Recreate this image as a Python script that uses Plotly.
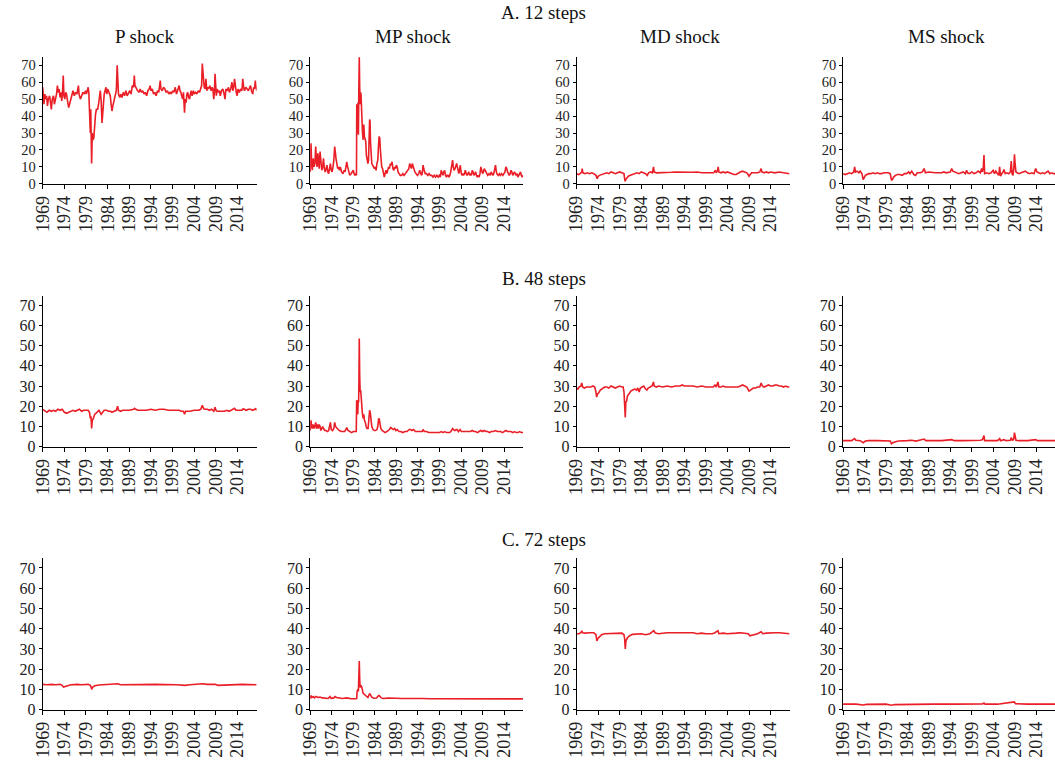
import plotly.graph_objects as go

# ---------------- data (decimal years, values) ----------------
year_ticks = [1969, 1974, 1979, 1984, 1989, 1994, 1999, 2004, 2009, 2014]
y_ticks = [0, 10, 20, 30, 40, 50, 60, 70]
shock_names = ["P shock", "MP shock", "MD shock", "MS shock"]
section_names = ["A. 12 steps", "B. 48 steps", "C. 72 steps"]

A_P_t = [1969.0,1969.15,1969.3,1969.5,1969.7,1969.9,1970.1,1970.3,1970.6,1970.8,1971.0,1971.2,1971.5,1971.7,1972.0,1972.2,1972.4,1972.6,1972.8,1973.0,1973.2,1973.4,1973.6,1973.75,1973.9,1974.1,1974.3,1974.5,1974.8,1975.0,1975.2,1975.5,1975.8,1976.0,1976.3,1976.6,1976.9,1977.1,1977.25,1977.4,1977.7,1978.0,1978.3,1978.6,1978.9,1979.1,1979.3,1979.5,1979.65,1979.8,1979.9,1980.0,1980.1,1980.2,1980.3,1980.45,1980.6,1980.8,1981.0,1981.2,1981.4,1981.7,1981.9,1982.1,1982.3,1982.5,1982.7,1982.85,1983.0,1983.2,1983.4,1983.6,1983.8,1984.0,1984.3,1984.6,1984.8,1985.0,1985.2,1985.5,1985.8,1986.0,1986.2,1986.35,1986.5,1986.8,1987.0,1987.3,1987.6,1987.9,1988.2,1988.5,1988.8,1989.1,1989.4,1989.7,1990.0,1990.15,1990.3,1990.6,1990.9,1991.2,1991.5,1991.8,1992.1,1992.4,1992.7,1993.0,1993.3,1993.6,1993.8,1994.0,1994.3,1994.6,1994.9,1995.2,1995.5,1995.8,1996.0,1996.15,1996.3,1996.6,1996.9,1997.2,1997.5,1997.8,1998.1,1998.4,1998.7,1999.0,1999.3,1999.6,1999.9,2000.2,2000.5,2000.7,2000.9,2001.1,2001.3,2001.5,2001.75,2001.9,2002.1,2002.3,2002.5,2002.7,2002.9,2003.1,2003.3,2003.5,2003.8,2004.0,2004.3,2004.6,2004.9,2005.2,2005.5,2005.7,2005.85,2006.0,2006.15,2006.3,2006.5,2006.7,2006.9,2007.1,2007.3,2007.6,2007.9,2008.1,2008.3,2008.5,2008.65,2008.8,2008.95,2009.1,2009.3,2009.5,2009.8,2010.0,2010.3,2010.6,2010.9,2011.1,2011.3,2011.6,2011.9,2012.1,2012.4,2012.7,2012.9,2013.1,2013.3,2013.5,2013.7,2013.9,2014.1,2014.4,2014.7,2015.0,2015.2,2015.4,2015.6,2015.9,2016.2,2016.5,2016.8,2017.0,2017.2,2017.5,2017.7,2017.9,2018.1,2018.25,2018.4]
A_P_v = [57,52,47,53,50,52,46,50,52,48,44,50,52,47,50,53,58,54,56,51,54,49,55,64,52,50,54,53,48,45,47,50,54,55,52,54,53,55,58,53,50,52,54,53,55,53,56,57,54,45,31,30,44,26,12,30,26,27,37,41,44,44,47,52,55,49,36,41,48,53,55,57,53,56,54,52,47,43,46,50,53,55,70,60,53,51,53,51,54,52,55,52,54,55,53,58,57,64,58,56,55,54,56,54,55,53,54,52,55,56,58,55,56,53,54,52,55,54,57,61,56,55,57,56,54,55,53,54,53,55,54,57,53,55,58,55,54,52,50,54,42,50,48,53,54,51,50,53,55,52,55,53,54,53,55,54,56,58,71,66,62,57,56,62,55,57,56,58,55,57,56,50,54,65,58,52,56,54,55,52,55,56,53,50,56,55,57,54,56,60,55,57,62,56,54,52,56,54,56,55,62,57,55,57,56,55,57,58,55,53,57,56,61,57,55]

A_MP_t = [1969.0,1969.1,1969.2,1969.35,1969.5,1969.7,1969.9,1970.1,1970.3,1970.45,1970.6,1970.8,1971.0,1971.1,1971.3,1971.5,1971.7,1971.9,1972.1,1972.3,1972.5,1972.7,1972.9,1973.1,1973.3,1973.5,1973.7,1973.9,1974.1,1974.3,1974.5,1974.7,1974.85,1975.0,1975.2,1975.4,1975.6,1975.8,1976.0,1976.3,1976.6,1976.9,1977.1,1977.3,1977.5,1977.7,1977.9,1978.2,1978.5,1978.8,1979.0,1979.2,1979.4,1979.6,1979.75,1979.82,1979.9,1980.0,1980.1,1980.2,1980.3,1980.4,1980.5,1980.6,1980.7,1980.8,1980.9,1981.0,1981.15,1981.3,1981.45,1981.6,1981.75,1981.9,1982.05,1982.2,1982.4,1982.55,1982.7,1982.8,1982.9,1983.0,1983.15,1983.3,1983.5,1983.7,1983.9,1984.1,1984.3,1984.5,1984.7,1984.85,1985.0,1985.15,1985.3,1985.45,1985.6,1985.8,1986.0,1986.2,1986.4,1986.6,1986.8,1987.0,1987.2,1987.4,1987.6,1987.8,1988.0,1988.2,1988.4,1988.6,1988.8,1989.0,1989.2,1989.4,1989.6,1989.9,1990.2,1990.5,1990.8,1991.1,1991.4,1991.7,1991.9,1992.1,1992.3,1992.5,1992.7,1992.9,1993.1,1993.3,1993.6,1993.9,1994.2,1994.4,1994.6,1994.8,1995.0,1995.2,1995.35,1995.5,1995.7,1996.0,1996.3,1996.6,1996.9,1997.2,1997.5,1997.8,1998.1,1998.4,1998.7,1999.0,1999.2,1999.4,1999.6,1999.8,2000.0,2000.2,2000.4,2000.6,2000.8,2001.0,2001.2,2001.4,2001.6,2001.75,2001.9,2002.05,2002.2,2002.4,2002.6,2002.8,2003.0,2003.15,2003.3,2003.5,2003.7,2003.85,2004.0,2004.2,2004.4,2004.6,2004.8,2005.0,2005.2,2005.4,2005.6,2005.8,2006.0,2006.2,2006.4,2006.6,2006.8,2007.0,2007.2,2007.4,2007.6,2007.8,2008.0,2008.2,2008.4,2008.6,2008.8,2009.0,2009.2,2009.4,2009.6,2009.8,2010.0,2010.2,2010.5,2010.8,2011.0,2011.2,2011.4,2011.6,2011.8,2012.0,2012.15,2012.3,2012.6,2012.9,2013.1,2013.4,2013.7,2014.0,2014.2,2014.4,2014.6,2014.8,2015.0,2015.2,2015.4,2015.6,2015.8,2016.0,2016.2,2016.4,2016.6,2016.8,2017.0,2017.2,2017.4,2017.6,2017.8,2018.0,2018.2,2018.4]
A_MP_v = [7,14,24,12,8,15,10,12,22,14,10,18,12,9,19,11,8,10,15,9,7,9,11,7,6,9,12,8,7,10,14,22,17,15,12,9,10,8,10,7,6,8,7,10,13,10,7,5,6,7,8,6,5,6,5,47,30,31,48,29,56,75,57,47,54,53,40,38,30,26,35,28,25,25,17,14,12,14,28,38,37,25,18,12,11,10,9,10,8,12,14,22,28,27,20,13,10,9,6,4,6,8,6,8,10,9,12,11,13,9,8,10,9,11,10,7,6,5,5,6,5,6,7,8,9,12,10,9,12,10,8,7,6,5,6,8,7,5,6,11,9,7,6,6,5,6,5,5,4,5,4,5,4,5,4,8,6,5,7,8,5,4,5,5,4,5,7,9,10,14,10,8,9,11,12,10,7,6,9,11,7,5,6,5,6,8,6,5,6,7,5,6,5,8,7,5,6,7,5,4,5,4,6,10,8,6,7,9,8,7,6,5,6,5,7,6,5,6,8,11,8,6,5,6,5,6,5,6,7,10,9,7,6,5,6,8,7,5,6,7,6,5,6,4,5,6,7,5,4,5]

A_MD_t = [1969.0,1969.5,1970.0,1970.2,1970.3,1970.45,1971.0,1971.5,1972.0,1972.5,1973.0,1973.5,1973.8,1974.0,1974.3,1974.8,1975.3,1976.0,1976.5,1977.0,1977.5,1978.0,1978.5,1979.0,1979.5,1980.0,1980.1,1980.25,1980.4,1980.7,1981.0,1981.5,1982.0,1982.5,1983.0,1983.5,1984.0,1984.5,1985.0,1985.4,1985.7,1986.2,1986.6,1986.85,1987.0,1987.5,1988.0,1989.0,1990.0,1991.0,1992.0,1993.0,1994.0,1995.0,1996.0,1997.0,1998.0,1999.0,2000.0,2000.8,2001.2,2001.4,2001.7,2001.85,2002.0,2002.5,2003.0,2003.5,2004.0,2004.5,2005.0,2005.5,2006.0,2006.5,2007.0,2007.5,2008.0,2008.5,2008.8,2009.0,2009.3,2009.6,2010.0,2010.5,2011.0,2011.5,2011.8,2012.0,2012.5,2013.0,2013.5,2014.0,2015.0,2016.0,2017.0,2017.5,2018.0,2018.4]
A_MD_v = [6,5.5,6.5,7,9,6.5,6,6.5,6,6.5,6,5,3,4.5,5,5.5,6,6.5,6,7,6.5,6,6.5,7,6.5,6,4,1.5,2.5,3.5,4.5,5,5.5,6,6.5,6,7,6.5,6,5,6.5,7,6.5,10,7,6.5,6.5,6.8,6.5,6.8,7,6.8,7,6.8,6.8,7,6.5,6.5,6.8,6.5,8,6.5,8,10,7,6.5,7,6.5,7,6.5,6,5.5,5.5,6.5,7,7.5,7,6.5,5.5,4.5,5.5,6.5,6.5,6.5,6.5,7,9,7,6.5,7,6.5,7,6.5,7,6.5,6.5,6,6]

A_MS_t = [1969.0,1969.5,1970.0,1970.5,1971.0,1971.5,1971.7,1971.9,1972.3,1972.7,1973.0,1973.4,1973.7,1973.9,1974.2,1974.6,1975.0,1975.5,1976.0,1976.5,1977.0,1977.5,1978.0,1978.5,1979.0,1979.5,1980.0,1980.1,1980.3,1980.5,1980.8,1981.2,1981.7,1982.2,1982.8,1983.3,1983.8,1984.3,1984.6,1985.0,1985.5,1985.9,1986.3,1987.0,1987.5,1987.9,1988.2,1989.0,1990.0,1990.5,1991.0,1992.0,1992.5,1993.0,1994.0,1994.3,1994.6,1995.0,1995.5,1996.0,1996.5,1997.0,1997.5,1997.8,1998.0,1998.5,1999.0,1999.5,2000.0,2000.5,2001.0,2001.3,2001.5,2001.7,2001.85,2002.0,2002.5,2003.0,2003.5,2004.0,2004.3,2004.6,2005.0,2005.3,2005.5,2005.7,2006.0,2006.3,2006.5,2006.8,2007.2,2007.6,2008.0,2008.2,2008.4,2008.6,2008.8,2008.95,2009.1,2009.3,2009.6,2010.0,2010.5,2011.0,2011.5,2012.0,2012.5,2013.0,2013.5,2013.9,2014.2,2014.6,2015.0,2015.5,2016.0,2016.5,2016.8,2017.2,2017.6,2018.0,2018.4]
A_MS_v = [6,5.5,6,6.5,6,7,10,7,7.5,6.5,7.5,6,2.5,4,5,5.5,6,6,6.5,6,6.5,6,6,6.5,6.5,6.5,6,3.5,2,2.5,4,5,5.5,5.5,5,6,6,7,6,7.5,5.5,5,6.5,6.5,7,9,6.5,7,6.5,6.5,6.5,6.5,7,6.5,7,9,7.5,7,6.5,6,6.5,7,6,8,6.5,6,7,6,6.5,7.5,6.5,9,7,10,17,6,6.5,6,6.5,8,6,7.5,6,5,10,4.5,6,7,8.5,6,6.5,6,7,13.5,6,5,9,17.5,12,7,6.5,6,6.5,7,7.5,6.5,6,6.5,6,9,7,6.5,6,6.5,6,7,7.5,6,6.5,6,6]

B_P_t = [1969.0,1969.5,1970.0,1970.5,1971.0,1971.5,1972.0,1972.5,1973.0,1973.5,1974.0,1974.5,1975.0,1975.5,1976.0,1976.5,1977.0,1977.5,1978.0,1978.5,1979.0,1979.5,1979.8,1980.0,1980.15,1980.3,1980.45,1980.7,1981.0,1981.5,1982.0,1982.5,1982.8,1983.2,1983.7,1984.2,1984.7,1985.0,1985.5,1986.0,1986.3,1986.5,1987.0,1987.5,1988.0,1989.0,1990.0,1990.2,1990.5,1991.0,1992.0,1993.0,1994.0,1995.0,1996.0,1997.0,1998.0,1999.0,2000.0,2000.5,2001.0,2001.5,2001.75,2002.0,2002.5,2003.0,2004.0,2005.0,2005.5,2005.85,2006.0,2006.3,2007.0,2007.5,2008.0,2008.5,2008.8,2009.0,2009.3,2010.0,2011.0,2011.5,2012.0,2012.5,2013.0,2013.3,2013.6,2014.0,2015.0,2015.3,2016.0,2016.5,2017.0,2017.5,2018.0,2018.2,2018.4]
B_P_v = [18.5,17.5,17,18,17.5,18,17.5,18.5,18,18.5,17,16.5,17,17.5,18,17.5,18,18.5,17.5,18,18,18,17,14,15,9,13,14,16,17,18,16,17,18,18,17.5,17.5,17,17.5,18,20,18,17.5,18,18,18,18.5,19,18.5,18,18,18,18.5,18,18.5,18.5,18,18,18,18,17.5,17.5,16,17.5,17.5,17.5,18,18,18.5,20.5,19.5,18.5,18.5,18,18.5,17.5,19.5,18,17.5,17.5,17.5,18,17.5,18,18.5,19,18,18,18,18.8,18,18.5,18.5,18,18.5,18.8,18]

B_MP_t = [1969.0,1969.1,1969.2,1969.35,1969.5,1969.7,1969.9,1970.1,1970.3,1970.5,1970.7,1970.9,1971.1,1971.3,1971.5,1971.7,1971.9,1972.1,1972.4,1972.7,1973.0,1973.3,1973.55,1973.7,1973.9,1974.2,1974.5,1974.7,1974.9,1975.2,1975.5,1975.8,1976.2,1976.6,1977.0,1977.3,1977.5,1977.8,1978.2,1978.6,1979.0,1979.4,1979.7,1979.8,1979.9,1980.05,1980.15,1980.25,1980.32,1980.4,1980.5,1980.6,1980.7,1980.8,1980.95,1981.1,1981.3,1981.45,1981.6,1981.8,1982.0,1982.2,1982.45,1982.65,1982.8,1982.95,1983.1,1983.3,1983.6,1983.9,1984.2,1984.5,1984.7,1984.9,1985.05,1985.2,1985.4,1985.7,1986.0,1986.4,1986.8,1987.1,1987.4,1987.7,1988.0,1988.3,1988.6,1988.9,1989.2,1989.6,1990.0,1990.5,1991.0,1991.5,1992.0,1992.3,1992.6,1993.0,1993.4,1993.8,1994.2,1994.6,1995.0,1995.2,1995.5,1996.0,1996.5,1997.0,1997.5,1998.0,1998.5,1999.0,1999.4,1999.8,2000.2,2000.6,2001.0,2001.4,2001.8,2002.05,2002.3,2002.6,2002.9,2003.1,2003.4,2003.8,2004.1,2004.5,2005.0,2005.4,2005.8,2006.2,2006.6,2007.0,2007.4,2007.8,2008.2,2008.6,2009.0,2009.4,2009.8,2010.2,2010.6,2011.0,2011.5,2012.0,2012.4,2012.8,2013.2,2013.6,2014.0,2014.4,2014.8,2015.2,2015.6,2016.0,2016.4,2016.8,2017.2,2017.6,2018.0,2018.4]
B_MP_v = [8,10,13,10,9,11,9,10,12,9,11,9,11,10,8,9,10,9,8,8,7.5,8,11,12,8.5,8,9,12,10,9,8.5,8,7.5,7.5,7.5,8.5,9.5,8,7.5,7,7.5,7.5,7.5,23,16,16,23,22,32,53.5,35,27,28,26,20,17,14,16,13,12,10,9,9,13,18,17,12,10,8.5,8,8,8.5,10,14,13.5,11,9,8,7.5,7,7.5,8,8.5,9.5,9,8.5,9,8,8.5,7.5,7.5,7,7.5,7.5,8.5,8.5,8,8.5,7.5,7.5,7.5,7.5,7.5,8.5,7.5,7.5,7,7,7,7,7,7,7.5,7,7.5,7,7,7,8,9,8.5,8,8.5,8.5,7.5,8.5,7.5,7.5,7.5,7.5,7.5,7.5,8,7.5,7.5,7,7.5,8,7.5,8,7.5,7.5,7,7.5,7.5,8,7.5,7.5,7.5,7,7.5,8,7.5,7.5,7.5,7,7.5,7,7,7.5,7,7]

B_MD_t = [1969.0,1969.3,1969.6,1970.0,1970.2,1970.4,1970.8,1971.3,1971.8,1972.3,1972.8,1973.2,1973.5,1973.65,1973.85,1974.1,1974.5,1975.0,1975.5,1976.0,1976.5,1977.0,1977.5,1978.0,1978.5,1979.0,1979.5,1979.8,1980.0,1980.1,1980.2,1980.3,1980.42,1980.6,1980.8,1981.2,1981.6,1982.0,1982.5,1982.9,1983.2,1983.5,1983.8,1984.2,1984.6,1985.0,1985.3,1985.6,1986.0,1986.5,1986.85,1987.0,1987.5,1988.0,1989.0,1990.0,1991.0,1992.0,1993.0,1993.5,1994.0,1995.0,1996.0,1997.0,1998.0,1999.0,2000.0,2000.7,2001.1,2001.4,2001.8,2002.0,2002.5,2003.0,2003.5,2004.0,2005.0,2006.0,2006.5,2007.0,2007.5,2008.0,2008.5,2009.0,2009.3,2009.6,2010.0,2010.5,2011.0,2011.5,2011.8,2012.1,2012.5,2013.0,2013.5,2014.0,2014.5,2015.0,2015.5,2016.0,2016.5,2017.0,2017.5,2018.0,2018.4]
B_MD_v = [29,28.5,29.5,30,31.5,29.5,29,29.5,29.5,29.5,30,29.5,27,24.5,26,26.5,28,29,29.5,29.5,29,30,29.5,29,29.5,30,29.5,29.5,27,24,22.5,14.5,22,22.5,25,26.5,27.5,28,28.5,28,29,27,29,29.5,30,28.5,28,29,29.5,30,32,30,29.5,30,29.5,30,29.5,30,30,30.5,30,30,30,29.5,30,29.5,29.5,29.5,30.5,29.5,32,29.5,29.5,30,29.5,29.5,29.5,29.5,29.5,30,30.5,30,29.5,27.5,28,28.5,29,29,29.5,29.5,31.5,30,29.5,30,30.5,30,30,30.5,30.5,30,30,29.5,30,29.5,29.5]

B_MS_t = [1969.0,1970.0,1971.0,1971.7,1972.0,1973.0,1973.7,1974.2,1975.0,1977.0,1979.0,1980.0,1980.3,1980.6,1981.2,1982.0,1984.0,1985.0,1986.0,1987.9,1988.3,1990.0,1992.0,1994.3,1995.0,1997.0,1999.0,2001.0,2001.5,2001.7,2001.85,2002.0,2003.0,2004.0,2005.0,2005.5,2005.7,2006.5,2007.0,2008.0,2008.2,2008.5,2008.8,2008.95,2009.1,2009.3,2010.0,2012.0,2013.9,2014.3,2016.0,2018.4]
B_MS_v = [3,3,3,4,3.2,3,2,2.8,3,3,3,2.8,1.5,2,2.5,2.8,3,3.2,2.8,3.8,3,3,3,3.5,3,3,3,3.2,3.5,4.5,5.5,3,3,3.3,3,4,3,3.5,3,3.2,4.5,3,4,7,5,3.2,3,3,3.5,3,3,3]

C_P_t = [1969.0,1970.0,1971.0,1972.0,1973.0,1973.5,1973.8,1974.2,1974.8,1975.5,1977.0,1978.0,1979.5,1980.0,1980.2,1980.3,1980.5,1981.0,1982.0,1983.0,1985.0,1986.3,1987.0,1990.0,1995.0,2000.0,2001.8,2003.0,2005.9,2007.0,2008.8,2009.5,2011.0,2013.0,2015.0,2018.4]
C_P_v = [12.5,12.3,12.5,12.3,12.5,12,11.2,11.5,12,12.3,12.5,12.3,12.5,12,11,10,11,11.8,12.2,12.3,12.3,12.8,12.3,12.5,12.5,12.3,12,12.3,12.8,12.5,12.5,12,12.2,12.5,12.5,12.3]

C_MP_t = [1969.0,1969.2,1969.4,1969.7,1970.0,1970.4,1970.8,1971.3,1971.8,1972.5,1973.2,1973.6,1973.9,1974.5,1974.8,1975.1,1975.8,1976.5,1977.5,1978.5,1979.5,1979.8,1979.9,1980.1,1980.2,1980.3,1980.4,1980.5,1980.6,1980.8,1981.0,1981.3,1981.6,1982.0,1982.4,1982.8,1983.0,1983.3,1983.8,1984.4,1984.9,1985.1,1985.5,1986.0,1987.0,1988.0,1989.0,1990.0,1992.0,1993.0,1995.0,1997.0,1999.0,2001.0,2002.0,2003.0,2005.0,2007.0,2009.0,2011.0,2013.0,2015.0,2017.0,2018.4]
C_MP_v = [5.5,7,6,6.5,5.8,6.5,6,6.2,5.8,5.6,5.5,6.5,5.6,5.8,6.5,6,5.6,5.5,5.8,5.4,5.4,5.5,9,10,9,16,24,15,11,12,11,8,7.5,6.5,6,8,7.5,6.2,5.6,5.7,7,6.8,5.8,5.5,5.7,5.8,5.6,5.5,5.6,5.5,5.5,5.4,5.4,5.4,5.6,5.5,5.4,5.5,5.5,5.4,5.4,5.4,5.3,5.3]

C_MD_t = [1969.0,1969.5,1970.0,1970.2,1970.4,1971.0,1972.0,1973.0,1973.5,1973.7,1973.9,1974.3,1974.8,1975.5,1976.5,1977.5,1978.5,1979.5,1980.0,1980.15,1980.3,1980.45,1980.8,1981.3,1982.0,1983.0,1984.0,1985.0,1986.0,1986.9,1987.3,1988.0,1990.0,1992.0,1994.0,1996.0,1997.0,1998.0,1999.0,2000.5,2001.1,2001.8,2002.0,2003.0,2004.0,2005.0,2006.0,2007.0,2008.0,2008.8,2009.2,2009.6,2010.2,2011.0,2011.8,2012.2,2013.0,2014.0,2015.0,2016.0,2017.0,2018.0,2018.4]
C_MD_v = [37.5,37.5,38,39,38,37.8,38,38,37,34,35,36,37,37.5,37.5,37.8,37.5,37.8,37,35,30,34,35.5,36.5,37.2,37.5,37.5,37,37.5,39,37.8,37.5,38,38,38,38,37.5,37.8,37.5,37.5,38,39,37.5,37.8,37.5,37.5,37.8,38,37.8,37.5,36.5,36.8,37.2,37.5,38.5,37.5,37.8,38,38,38,37.8,37.5,37.5]

C_MS_t = [1969.0,1972.0,1973.7,1974.5,1979.0,1980.3,1981.0,1985.0,1990.0,1995.0,2001.5,2001.85,2002.1,2005.0,2008.9,2009.2,2012.0,2018.4]
C_MS_v = [2.7,2.7,2.3,2.6,2.7,2.2,2.5,2.7,2.7,2.7,2.8,3.3,2.7,2.7,3.8,2.9,2.7,2.7]

panels = [
    (A_P_t, A_P_v), (A_MP_t, A_MP_v), (A_MD_t, A_MD_v), (A_MS_t, A_MS_v),
    (B_P_t, B_P_v), (B_MP_t, B_MP_v), (B_MD_t, B_MD_v), (B_MS_t, B_MS_v),
    (C_P_t, C_P_v), (C_MP_t, C_MP_v), (C_MD_t, C_MD_v), (C_MS_t, C_MS_v),
]

# ---------------- layout ----------------
W, H = 1055, 773
RED = "rgb(234,30,38)"
FONT = "Liberation Serif, Times New Roman, serif"
col_px = [(33, 249), (303, 518), (572, 787), (841, 1055)]
row_px = [(58, 186), (299, 452), (565, 718)]
ytick_size = [14.5, 16, 16]

fig = go.Figure()
layout = {}
for i, (t, v) in enumerate(panels):
    r, c = divmod(i, 4)
    k = i + 1
    xn = "x" if k == 1 else f"x{k}"
    yn = "y" if k == 1 else f"y{k}"
    fig.add_trace(go.Scatter(x=t, y=v, mode="lines", xaxis=xn, yaxis=yn,
                             line=dict(color=RED, width=1.6),
                             showlegend=False, hoverinfo="skip"))
    x0, x1 = col_px[c]
    top, bot = row_px[r]
    layout[f"xaxis{k}"] = dict(
        domain=[x0 / W, x1 / W], anchor=yn, range=[1969, 2018.4],
        tickvals=year_ticks, ticktext=[str(y) for y in year_ticks],
        tickangle=-90, ticks="outside", ticklen=4, tickcolor="black",
        showline=True, linecolor="black", linewidth=1,
        showgrid=False, zeroline=False,
        tickfont=dict(family=FONT, size=18, color="#222"))
    layout[f"yaxis{k}"] = dict(
        domain=[1 - bot / H, 1 - top / H], anchor=xn, range=[0, 74.7],
        tickvals=y_ticks, ticks="outside", ticklen=3, tickcolor="black",
        showline=True, linecolor="black", linewidth=1,
        showgrid=False, zeroline=False,
        tickfont=dict(family=FONT, size=ytick_size[r], color="#222"))

annotations = []
sec_y = [13, 282, 546]
for r, name in enumerate(section_names):
    annotations.append(dict(text=name, x=539 / W, y=1 - sec_y[r] / H,
                            xref="paper", yref="paper", showarrow=False,
                            xanchor="center", yanchor="middle",
                            font=dict(family=FONT, size=19, color="#111")))
title_x = [136, 407, 676, 945]
for c, name in enumerate(shock_names):
    annotations.append(dict(text=name, x=title_x[c] / W, y=1 - 37 / H,
                            xref="paper", yref="paper", showarrow=False,
                            xanchor="center", yanchor="middle",
                            font=dict(family=FONT, size=19, color="#111")))

fig.update_layout(width=W, height=H, margin=dict(l=0, r=0, t=0, b=0),
                  paper_bgcolor="white", plot_bgcolor="white",
                  annotations=annotations, **layout)
fig.write_html("out.html")
